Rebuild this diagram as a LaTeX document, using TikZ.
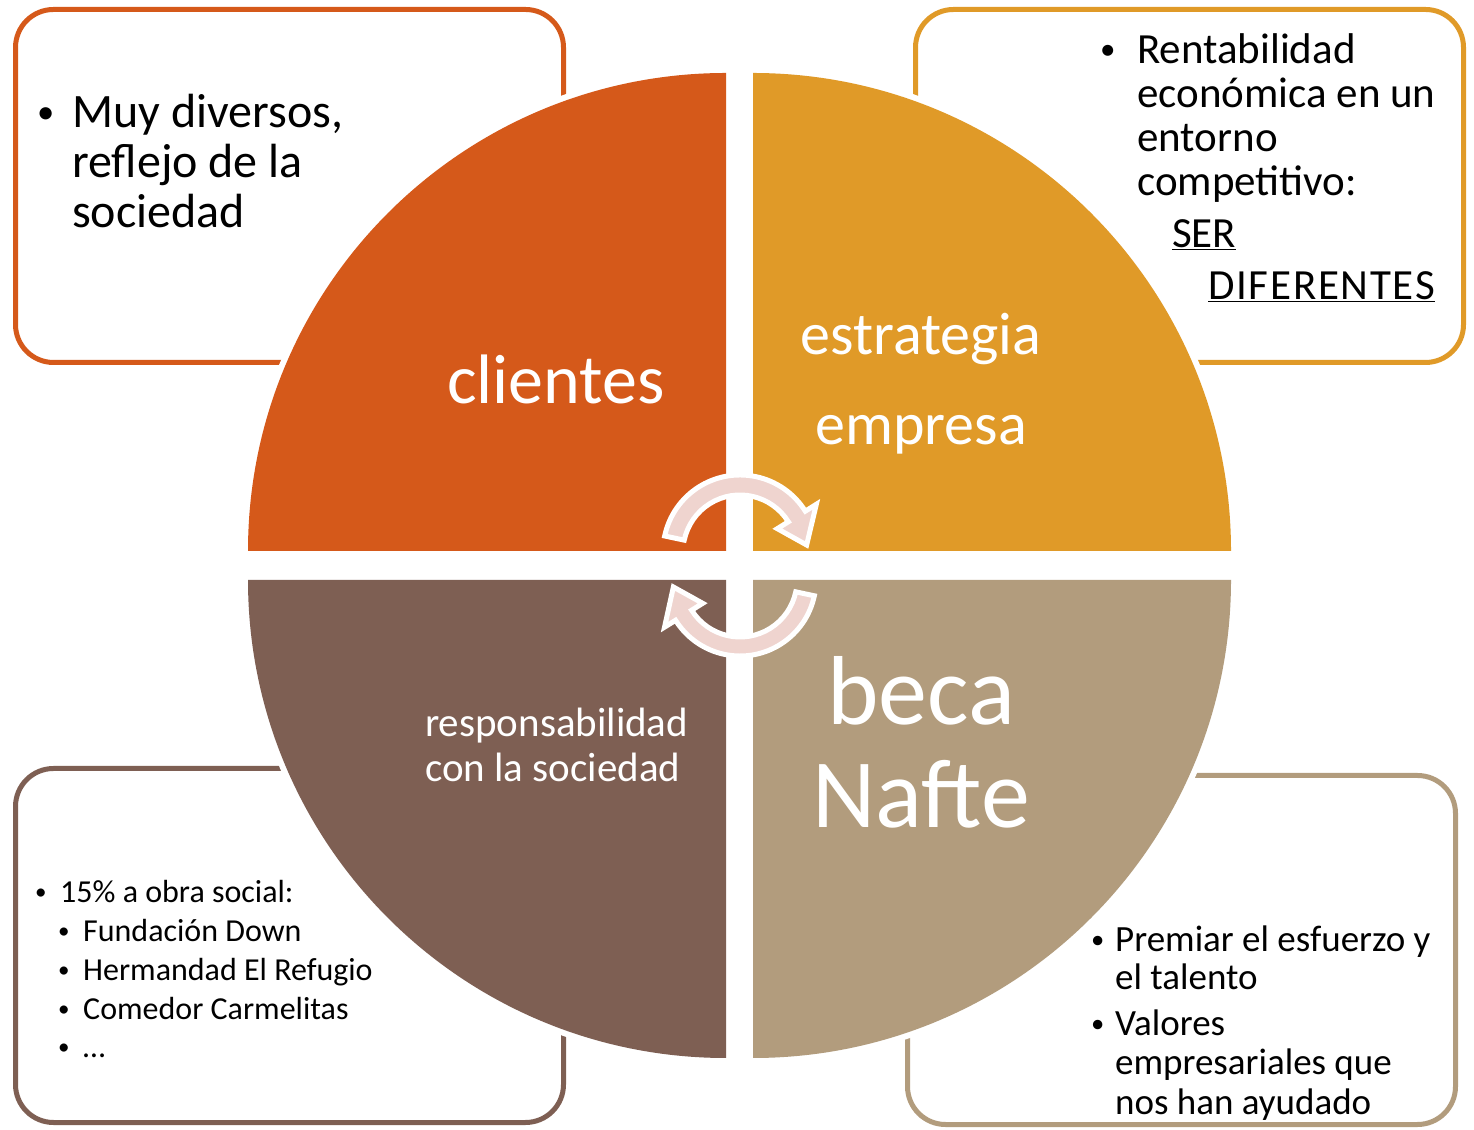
\documentclass[tikz,border=0pt]{standalone}
\usepackage{fontspec}
\setmainfont{Carlito}
\usetikzlibrary{calc}
\definecolor{cA}{HTML}{D5591A}
\definecolor{cB}{HTML}{E09A28}
\definecolor{cC}{HTML}{7E5F53}
\definecolor{cD}{HTML}{B29C7D}
\definecolor{cP}{HTML}{EFD4CF}
\newcommand{\myblt}{\raisebox{0.1em}{\scalebox{0.72}{\textbullet}}}
\begin{document}
\begin{tikzpicture}[x=1pt,y=1pt,
  box/.style={line width=5pt, rounded corners=38pt, fill=white},
  halo/.style={draw=white, line width=12pt, line join=round},
  txt/.style={inner sep=0pt, anchor=base west, text=black},
  lbl/.style={inner sep=0pt, anchor=base, text=white},
  cyc/.style={fill=cP, draw=white, line width=5pt, line join=miter}]
\useasboundingbox (0,0) rectangle (1474,1129);
% boxes
\draw[box, draw=cA] (15.5,766.5) rectangle (563.5,1119.5);
\draw[box, draw=cB] (915.5,766.5) rectangle (1463.5,1119.5);
\draw[box, draw=cC] (15.5,6.5) rectangle (563.5,360.5);
\draw[box, draw=cD] (907.5,4.5) rectangle (1455.5,353.5);
% quadrant halos
\path[halo] (726,578) -- (248,578) arc[start angle=180,end angle=90,radius=478pt] -- cycle;
\path[halo] (753,578) -- (753,1056) arc[start angle=90,end angle=0,radius=478pt] -- cycle;
\path[halo] (726,549) -- (248,549) arc[start angle=180,end angle=270,radius=478pt] -- cycle;
\path[halo] (753,549) -- (1231,549) arc[start angle=0,end angle=-90,radius=478pt] -- cycle;
% quadrants
\fill[cA] (726,578) -- (248,578) arc[start angle=180,end angle=90,radius=478pt] -- cycle;
\fill[cB] (753,578) -- (753,1056) arc[start angle=90,end angle=0,radius=478pt] -- cycle;
\fill[cC] (726,549) -- (248,549) arc[start angle=180,end angle=270,radius=478pt] -- cycle;
\fill[cD] (753,549) -- (1231,549) arc[start angle=0,end angle=-90,radius=478pt] -- cycle;
% cycle arrows
\coordinate (c1) at (740,577);
\coordinate (c2) at (740,549);
\path[cyc] ($(c1)+(168:77pt)$) arc[start angle=168,end angle=32,radius=77pt]
  -- ($(c1)+(32:90pt)$) -- ($(c1)+(6:67pt)$) -- ($(c1)+(32:44pt)$)
  -- ($(c1)+(32:57pt)$) arc[start angle=32,end angle=168,radius=57pt] -- cycle;
\path[cyc] ($(c2)+(-12:76pt)$) arc[start angle=-12,end angle=-148,radius=76pt]
  -- ($(c2)+(-148:89pt)$) -- ($(c2)+(-174:67pt)$) -- ($(c2)+(-148:44pt)$)
  -- ($(c2)+(-148:57pt)$) arc[start angle=-148,end angle=-12,radius=57pt] -- cycle;
% quadrant labels
\node[lbl, font=\fontsize{70}{70}\selectfont] (clientes) at (556,725) {clientes};
\node[lbl, font=\fontsize{60}{60}\selectfont] (estr) at (921,774) {estrategia};
\node[lbl, font=\fontsize{60}{60}\selectfont] (empr) at (921,684) {empresa};
\node[lbl, anchor=base west, font=\fontsize{41}{41}\selectfont] (resp) at (425,392) {responsabilidad};
\node[lbl, anchor=base west, font=\fontsize{41}{41}\selectfont] (cons) at (425,347) {con la sociedad};
\node[lbl, font=\fontsize{98}{98}\selectfont] (beca) at (921,404) {beca};
\node[lbl, font=\fontsize{98}{98}\selectfont] (nafte) at (921,301) {Nafte};
% top-left box text
\begin{scope}[font=\fontsize{48}{48}\selectfont]
\node[txt] (tlb) at (37,1001) {\myblt};
\node[txt] (tl1) at (72,1001) {Muy diversos,};
\node[txt] (tl2) at (72,951) {reflejo de la};
\node[txt] (tl3) at (72,901) {sociedad};
\end{scope}
% top-right box text
\begin{scope}[font=\fontsize{43}{43}\selectfont]
\node[txt] (trb) at (1100,1065) {\myblt};
\node[txt] (tr1) at (1137,1065) {Rentabilidad};
\node[txt] (tr2) at (1137,1021) {económica en un};
\node[txt] (tr3) at (1137,977) {entorno};
\node[txt] (tr4) at (1137,933) {competitivo:};
\node[txt] (tr5) at (1172,881) {\underline{SER}};
\node[txt] (tr6) at (1208,829) {\underline{\addfontfeature{LetterSpace=4}DIFERENTES}};
\end{scope}
% bottom-left box text
\begin{scope}[font=\fontsize{32}{32}\selectfont]
\node[txt] (blb) at (35,226) {\myblt};
\node[txt] (bl1) at (60,226) {15\% a obra social:};
\node[txt] (blb2) at (58,187) {\myblt};
\node[txt] (bl2) at (83,187) {Fundación Down};
\node[txt] (blb3) at (58,148) {\myblt};
\node[txt] (bl3) at (83,148) {Hermandad El Refugio};
\node[txt] (blb4) at (58,109) {\myblt};
\node[txt] (bl4) at (83,109) {Comedor Carmelitas};
\node[txt] (blb5) at (58,71) {\myblt};
\node[txt] (bl5) at (83,71) {…};
\end{scope}
% bottom-right box text
\begin{scope}[font=\fontsize{37}{37}\selectfont]
\node[txt] (brb1) at (1091,177) {\myblt};
\node[txt] (br1) at (1115,177) {Premiar el esfuerzo y};
\node[txt] (br2) at (1115,139) {el talento};
\node[txt] (brb2) at (1091,93) {\myblt};
\node[txt] (br3) at (1115,93) {Valores};
\node[txt] (br4) at (1115,54) {empresariales que};
\node[txt] (br5) at (1115,15) {nos han ayudado};
\end{scope}
\end{tikzpicture}
\end{document}
